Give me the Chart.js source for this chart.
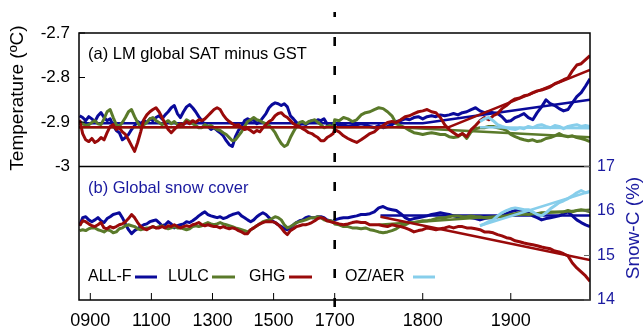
<!DOCTYPE html>
<html>
<head>
<meta charset="utf-8">
<script src="https://cdn.jsdelivr.net/npm/chart.js@4.4.1/dist/chart.umd.min.js"></script>
<style>
  html, body { margin: 0; padding: 0; background: #ffffff; }
  #wrap { width: 643px; height: 334px; }
</style>
</head>
<body>
<div id="wrap"><canvas id="chart" width="643" height="334"></canvas></div>
<script>
const FONT = "'Liberation Sans', Arial, Helvetica, sans-serif";
const COL_ALLF = "#0a0a9a";
const COL_LULC = "#5a7a2a";
const COL_GHG = "#990a0a";
const COL_OZ = "#87ceeb";
const COL_TEXT_BLUE = "#1a1aa0";

// x axis: years before 1700 are squeezed (200 yr per tick step), after 1700 100 yr per step
const SQUEEZE = 0.347;
const tx = (year) => (year >= 1700 ? year : 1700 + (year - 1700) * SQUEEZE);

const xMinYear = 863;
const xMaxYear = 1990;
const xTickYears = [900, 1100, 1300, 1500, 1700, 1800, 1900];
const xTickLabels = ["0900", "1100", "1300", "1500", "1700", "1800", "1900"];
const satTicks = [-3, -2.9, -2.8, -2.7];
const satTickLabels = ["-3", "-2.9", "-2.8", "-2.7"];
const snowTicks = [14, 15, 16, 17];
const snowTickLabels = ["14", "15", "16", "17"];

const seriesNames = ["ALL-F", "LULC", "GHG", "OZ/AER"];

// sampling: pre = 865..1695 every 10 yr, post = 1700..1990 every 5 yr, OZ/AER = 1865..1990 every 5 yr
const preStart = 865, preStep = 10;
const postStart = 1700, postStep = 5;
const ozStart = 1865, ozStep = 5;

// (a) SAT minus GST, degC
const satAllfPre = [-2.886,-2.890,-2.897,-2.888,-2.893,-2.899,-2.886,-2.879,-2.890,-2.897,
  -2.893,-2.908,-2.919,-2.924,-2.940,-2.935,-2.928,-2.917,-2.908,-2.899,
  -2.904,-2.897,-2.901,-2.893,-2.897,-2.890,-2.886,-2.893,-2.884,-2.877,
  -2.868,-2.863,-2.881,-2.890,-2.877,-2.866,-2.861,-2.868,-2.877,-2.888,
  -2.897,-2.906,-2.910,-2.917,-2.913,-2.919,-2.924,-2.931,-2.942,-2.951,
  -2.955,-2.933,-2.919,-2.910,-2.897,-2.893,-2.897,-2.895,-2.904,-2.899,
  -2.890,-2.881,-2.868,-2.861,-2.857,-2.859,-2.863,-2.859,-2.866,-2.886,
  -2.893,-2.901,-2.906,-2.904,-2.906,-2.901,-2.897,-2.899,-2.895,-2.897,
  -2.893,-2.904,-2.908,-2.904];
const satAllfPost = [-2.901,-2.908,-2.906,-2.910,-2.908,-2.906,-2.904,-2.906,-2.910,-2.913,
  -2.908,-2.913,-2.910,-2.906,-2.899,-2.897,-2.893,-2.895,-2.890,-2.888,
  -2.893,-2.888,-2.886,-2.888,-2.884,-2.886,-2.884,-2.881,-2.884,-2.879,
  -2.877,-2.872,-2.868,-2.875,-2.879,-2.877,-2.879,-2.881,-2.888,-2.899,
  -2.897,-2.890,-2.886,-2.881,-2.890,-2.895,-2.879,-2.866,-2.850,-2.859,
  -2.863,-2.870,-2.875,-2.872,-2.857,-2.843,-2.834,-2.819,-2.803];
const satLulcPre = [-2.899,-2.904,-2.908,-2.906,-2.901,-2.897,-2.904,-2.906,-2.893,-2.877,
  -2.872,-2.890,-2.906,-2.910,-2.901,-2.890,-2.877,-2.872,-2.888,-2.901,
  -2.913,-2.906,-2.901,-2.893,-2.890,-2.897,-2.901,-2.906,-2.901,-2.897,
  -2.904,-2.899,-2.906,-2.910,-2.904,-2.895,-2.899,-2.904,-2.908,-2.913,
  -2.913,-2.906,-2.910,-2.908,-2.913,-2.917,-2.919,-2.924,-2.928,-2.935,
  -2.942,-2.940,-2.931,-2.922,-2.910,-2.899,-2.895,-2.890,-2.895,-2.897,
  -2.901,-2.904,-2.908,-2.915,-2.924,-2.937,-2.948,-2.955,-2.951,-2.935,
  -2.922,-2.910,-2.901,-2.899,-2.904,-2.899,-2.897,-2.895,-2.901,-2.906,
  -2.913,-2.910,-2.908,-2.913];
const satLulcPost = [-2.895,-2.897,-2.890,-2.893,-2.899,-2.895,-2.884,-2.879,-2.877,-2.872,
  -2.868,-2.870,-2.877,-2.886,-2.904,-2.908,-2.913,-2.919,-2.924,-2.926,
  -2.928,-2.926,-2.924,-2.926,-2.928,-2.928,-2.933,-2.935,-2.933,-2.926,
  -2.937,-2.922,-2.915,-2.913,-2.913,-2.910,-2.910,-2.913,-2.915,-2.919,
  -2.928,-2.933,-2.937,-2.940,-2.942,-2.940,-2.944,-2.942,-2.937,-2.935,
  -2.931,-2.926,-2.931,-2.933,-2.931,-2.935,-2.937,-2.940,-2.944];
const satGhgPre = [-2.895,-2.926,-2.940,-2.944,-2.937,-2.946,-2.942,-2.935,-2.940,-2.924,
  -2.910,-2.906,-2.917,-2.913,-2.922,-2.928,-2.940,-2.953,-2.966,-2.946,
  -2.922,-2.895,-2.884,-2.877,-2.872,-2.868,-2.877,-2.890,-2.904,-2.917,
  -2.924,-2.917,-2.910,-2.904,-2.906,-2.899,-2.904,-2.897,-2.901,-2.895,
  -2.897,-2.893,-2.886,-2.879,-2.872,-2.868,-2.872,-2.884,-2.893,-2.899,
  -2.904,-2.908,-2.906,-2.913,-2.917,-2.915,-2.919,-2.924,-2.919,-2.922,
  -2.913,-2.906,-2.899,-2.895,-2.886,-2.881,-2.879,-2.886,-2.890,-2.897,
  -2.904,-2.908,-2.910,-2.915,-2.919,-2.924,-2.926,-2.931,-2.935,-2.942,
  -2.942,-2.935,-2.931,-2.926];
const satGhgPost = [-2.917,-2.922,-2.931,-2.937,-2.942,-2.946,-2.940,-2.933,-2.926,-2.922,
  -2.913,-2.908,-2.901,-2.899,-2.901,-2.895,-2.888,-2.886,-2.881,-2.877,
  -2.875,-2.872,-2.877,-2.879,-2.890,-2.906,-2.917,-2.924,-2.931,-2.926,
  -2.933,-2.917,-2.908,-2.897,-2.890,-2.895,-2.886,-2.881,-2.870,-2.863,
  -2.854,-2.848,-2.846,-2.841,-2.839,-2.834,-2.830,-2.828,-2.825,-2.821,
  -2.814,-2.810,-2.805,-2.801,-2.785,-2.772,-2.769,-2.760,-2.751];
const satOzaer = [-2.899,-2.893,-2.890,-2.897,-2.906,-2.910,-2.913,-2.915,-2.917,-2.913,
  -2.915,-2.910,-2.913,-2.908,-2.906,-2.910,-2.913,-2.908,-2.910,-2.915,
  -2.910,-2.908,-2.906,-2.910,-2.908,-2.910];

// (b) global snow cover, %
const snowAllfPre = [15.67,15.85,15.87,15.80,15.76,15.80,15.85,15.78,15.74,15.83,
  15.87,15.92,15.94,15.96,15.85,15.71,15.58,15.49,15.56,15.60,
  15.65,15.69,15.71,15.76,15.78,15.80,15.74,15.67,15.69,15.76,
  15.71,15.62,15.67,15.69,15.71,15.76,15.74,15.78,15.83,15.89,
  15.94,15.98,15.92,15.89,15.87,15.85,15.87,15.83,15.85,15.89,
  15.92,15.94,15.96,15.89,15.85,15.80,15.76,15.80,15.87,15.92,
  15.96,15.92,15.85,15.78,15.74,15.69,15.65,15.60,15.58,15.62,
  15.69,15.74,15.78,15.80,15.85,15.87,15.85,15.85,15.87,15.87,
  15.85,15.80,15.78,15.76];
const snowAllfPost = [15.80,15.83,15.85,15.85,15.87,15.89,15.92,15.92,15.94,15.98,
  16.07,16.10,16.05,16.03,16.01,15.94,15.85,15.80,15.83,15.85,
  15.87,15.89,15.92,15.94,15.96,15.94,15.92,15.89,15.87,15.85,
  15.87,15.85,15.83,15.80,15.83,15.85,15.85,15.87,15.89,15.94,
  15.98,16.01,16.03,16.01,15.96,15.89,15.85,15.80,15.83,15.85,
  15.87,15.89,15.94,15.98,15.89,15.80,15.74,15.69,15.65];
const snowLulcPre = [15.56,15.58,15.56,15.60,15.62,15.62,15.58,15.56,15.53,15.58,
  15.56,15.51,15.53,15.60,15.62,15.67,15.69,15.67,15.65,15.60,
  15.58,15.60,15.62,15.62,15.65,15.62,15.65,15.67,15.62,15.60,
  15.62,15.65,15.62,15.62,15.60,15.58,15.60,15.65,15.67,15.65,
  15.67,15.71,15.74,15.71,15.69,15.71,15.74,15.71,15.69,15.67,
  15.65,15.62,15.60,15.58,15.56,15.53,15.58,15.62,15.67,15.71,
  15.76,15.78,15.80,15.83,15.87,15.85,15.80,15.69,15.62,15.65,
  15.69,15.74,15.76,15.78,15.80,15.83,15.85,15.85,15.87,15.85,
  15.80,15.78,15.78,15.76];
const snowLulcPost = [15.71,15.69,15.65,15.65,15.62,15.62,15.60,15.62,15.58,15.56,
  15.53,15.51,15.53,15.56,15.60,15.67,15.69,15.74,15.74,15.76,
  15.78,15.78,15.80,15.83,15.85,15.85,15.87,15.89,15.89,15.87,
  15.87,15.89,15.87,15.87,15.85,15.85,15.85,15.87,15.87,15.89,
  15.92,15.94,15.96,15.94,15.92,15.94,15.94,15.96,15.96,15.98,
  15.98,15.98,15.98,16.01,15.98,16.01,16.03,16.01,15.98];
const snowGhgPre = [15.67,15.78,15.76,15.71,15.67,15.65,15.69,15.74,15.62,15.60,
  15.65,15.62,15.65,15.69,15.71,15.76,15.83,15.92,15.85,15.74,
  15.65,15.60,15.58,15.62,15.65,15.62,15.62,15.65,15.62,15.67,
  15.65,15.69,15.65,15.62,15.65,15.67,15.65,15.69,15.71,15.74,
  15.69,15.67,15.69,15.67,15.65,15.65,15.62,15.65,15.62,15.60,
  15.62,15.60,15.56,15.53,15.49,15.49,15.58,15.62,15.67,15.71,
  15.74,15.76,15.76,15.76,15.74,15.69,15.62,15.53,15.47,15.56,
  15.60,15.65,15.67,15.69,15.69,15.71,15.74,15.78,15.83,15.85,
  15.83,15.78,15.76,15.74];
const snowGhgPost = [15.74,15.71,15.69,15.71,15.74,15.76,15.74,15.74,15.69,15.69,
  15.69,15.67,15.65,15.69,15.67,15.65,15.62,15.58,15.53,15.56,
  15.58,15.62,15.60,15.58,15.60,15.62,15.65,15.62,15.65,15.65,
  15.62,15.62,15.60,15.58,15.53,15.53,15.51,15.47,15.44,15.40,
  15.38,15.33,15.31,15.28,15.26,15.24,15.22,15.19,15.17,15.15,
  15.10,15.08,15.04,14.99,14.83,14.72,14.63,14.54,14.42];
const snowOzaer = [15.67,15.71,15.76,15.80,15.89,15.96,16.01,16.05,16.07,16.05,
  16.03,16.03,15.98,15.92,15.89,15.96,16.05,16.12,16.19,16.23,
  16.28,16.34,16.41,16.46,16.41,16.44];

// fitted trend lines (year, value)
const satTrendAllfYears = [863, 1800, 1990], satTrendAllf = [-2.903, -2.903, -2.850];
const satTrendLulcYears = [863, 1770, 1990], satTrendLulc = [-2.912, -2.912, -2.934];
const satTrendGhgYears = [863, 1829, 1990], satTrendGhg = [-2.912, -2.912, -2.783];
const satTrendOzYears = [1865, 1990], satTrendOz = [-2.912, -2.914];
const snowTrendAllfYears = [1752, 1990], snowTrendAllf = [15.90, 15.90];
const snowTrendLulcYears = [1750, 1990], snowTrendLulc = [15.69, 16.03];
const snowTrendGhgYears = [1752, 1990], snowTrendGhg = [15.87, 14.90];
const snowTrendOzYears = [1865, 1990], snowTrendOz = [15.67, 16.44];

function joinSampled(pre, post) {
  const pts = [];
  pre.forEach((v, i) => pts.push({ x: tx(preStart + preStep * i), y: v }));
  post.forEach((v, i) => pts.push({ x: tx(postStart + postStep * i), y: v }));
  return pts;
}
function sampled(start, step, vals) {
  return vals.map((v, i) => ({ x: tx(start + step * i), y: v }));
}
function paired(years, vals) {
  return years.map((yr, i) => ({ x: tx(yr), y: vals[i] }));
}
function lineSet(label, color, data, axis, order, width) {
  return {
    label,
    data,
    yAxisID: axis,
    borderColor: color,
    backgroundColor: color,
    borderWidth: width,
    borderJoinStyle: "round",
    pointRadius: 0,
    tension: 0,
    fill: false,
    order,
  };
}

const SERIES_W = 3;
const TREND_W = 2.5;
const datasets = [
  lineSet("ALL-F", COL_ALLF, joinSampled(satAllfPre, satAllfPost), "ySat", 8, SERIES_W),
  lineSet("ALL-F trend", COL_ALLF, paired(satTrendAllfYears, satTrendAllf), "ySat", 7, TREND_W),
  lineSet("LULC", COL_LULC, joinSampled(satLulcPre, satLulcPost), "ySat", 6, SERIES_W),
  lineSet("LULC trend", COL_LULC, paired(satTrendLulcYears, satTrendLulc), "ySat", 5, TREND_W),
  lineSet("GHG", COL_GHG, joinSampled(satGhgPre, satGhgPost), "ySat", 4, SERIES_W),
  lineSet("GHG trend", COL_GHG, paired(satTrendGhgYears, satTrendGhg), "ySat", 3, TREND_W),
  lineSet("OZ/AER", COL_OZ, sampled(ozStart, ozStep, satOzaer), "ySat", 2, SERIES_W),
  lineSet("OZ/AER trend", COL_OZ, paired(satTrendOzYears, satTrendOz), "ySat", 1, TREND_W),
  lineSet("ALL-F snow", COL_ALLF, joinSampled(snowAllfPre, snowAllfPost), "ySnow", 8, SERIES_W),
  lineSet("ALL-F snow trend", COL_ALLF, paired(snowTrendAllfYears, snowTrendAllf), "ySnow", 7, TREND_W),
  lineSet("LULC snow", COL_LULC, joinSampled(snowLulcPre, snowLulcPost), "ySnow", 6, SERIES_W),
  lineSet("LULC snow trend", COL_LULC, paired(snowTrendLulcYears, snowTrendLulc), "ySnow", 5, TREND_W),
  lineSet("GHG snow", COL_GHG, joinSampled(snowGhgPre, snowGhgPost), "ySnow", 4, SERIES_W),
  lineSet("GHG snow trend", COL_GHG, paired(snowTrendGhgYears, snowTrendGhg), "ySnow", 3, TREND_W),
  lineSet("OZ/AER snow", COL_OZ, sampled(ozStart, ozStep, snowOzaer), "ySnow", 2, SERIES_W),
  lineSet("OZ/AER snow trend", COL_OZ, paired(snowTrendOzYears, snowTrendOz), "ySnow", 1, TREND_W),
];

const panelPlugin = {
  id: "panelDecor",
  afterDatasetsDraw(chart) {
    const { ctx, chartArea: a, scales } = chart;
    const ySat = scales.ySat;
    const ySnow = scales.ySnow;
    const x = scales.x;
    ctx.save();

    ctx.strokeStyle = "#000000";
    ctx.lineWidth = 1.5;
    ctx.strokeRect(a.left, a.top, a.right - a.left, a.bottom - a.top);
    const yDiv = ySat.getPixelForValue(-3);
    ctx.beginPath();
    ctx.moveTo(a.left, yDiv);
    ctx.lineTo(a.right, yDiv);
    ctx.stroke();

    // inner tick marks
    ctx.lineWidth = 1;
    satTicks.forEach((v) => {
      const py = ySat.getPixelForValue(v);
      ctx.beginPath();
      ctx.moveTo(a.left, py);
      ctx.lineTo(a.left + 6, py);
      ctx.stroke();
    });
    ctx.strokeStyle = "#666666";
    snowTicks.forEach((v) => {
      const py = ySnow.getPixelForValue(v);
      ctx.beginPath();
      ctx.moveTo(a.right - 6, py);
      ctx.lineTo(a.right, py);
      ctx.stroke();
    });
    ctx.strokeStyle = "#000000";
    xTickYears.forEach((yr) => {
      const px = x.getPixelForValue(tx(yr));
      ctx.beginPath();
      ctx.moveTo(px, a.bottom);
      ctx.lineTo(px, a.bottom - 7);
      ctx.stroke();
    });

    // dashed marker at 1700
    const px1700 = x.getPixelForValue(tx(1700));
    ctx.lineWidth = 2.6;
    ctx.setLineDash([9, 20]);
    ctx.beginPath();
    ctx.moveTo(px1700, a.bottom + 7);
    ctx.lineTo(px1700, 12);
    ctx.stroke();
    ctx.setLineDash([]);

    // panel captions
    ctx.textBaseline = "middle";
    ctx.textAlign = "left";
    ctx.font = `16.5px ${FONT}`;
    ctx.fillStyle = "#000000";
    ctx.fillText("(a) LM global SAT minus GST", a.left + 9, 54);
    ctx.fillStyle = COL_TEXT_BLUE;
    ctx.fillText("(b) Global snow cover", a.left + 9, 188);

    // legend: label then line sample
    const legendY = 277;
    const legendItems = [
      { tx: 88, l0: 135, l1: 157, color: COL_ALLF },
      { tx: 168, l0: 212, l1: 235, color: COL_LULC },
      { tx: 249, l0: 289, l1: 312, color: COL_GHG },
      { tx: 345, l0: 413, l1: 435, color: COL_OZ },
    ];
    ctx.font = `16px ${FONT}`;
    legendItems.forEach((item, i) => {
      ctx.fillStyle = "#000000";
      ctx.fillText(seriesNames[i], item.tx, legendY);
      ctx.strokeStyle = item.color;
      ctx.lineWidth = 3;
      ctx.beginPath();
      ctx.moveTo(item.l0, legendY);
      ctx.lineTo(item.l1, legendY);
      ctx.stroke();
    });

    // axis titles
    ctx.textAlign = "center";
    ctx.font = `19px ${FONT}`;
    ctx.fillStyle = "#000000";
    ctx.save();
    ctx.translate(18, 98);
    ctx.rotate(-Math.PI / 2);
    ctx.fillText("Temperature (ºC)", 0, 0);
    ctx.restore();
    ctx.fillStyle = COL_TEXT_BLUE;
    ctx.save();
    ctx.translate(634, 228);
    ctx.rotate(-Math.PI / 2);
    ctx.fillText("Snow-C (%)", 0, 0);
    ctx.restore();

    ctx.restore();
  },
};

new Chart(document.getElementById("chart"), {
  type: "line",
  data: { datasets },
  options: {
    responsive: false,
    maintainAspectRatio: false,
    animation: false,
    devicePixelRatio: 1,
    layout: { padding: { top: 33, left: 0, right: 0, bottom: 0 } },
    plugins: {
      legend: { display: false },
      tooltip: { enabled: false },
    },
    scales: {
      x: {
        type: "linear",
        min: tx(xMinYear),
        max: xMaxYear,
        grid: { display: false, drawTicks: false },
        border: { display: false },
        afterBuildTicks: (s) => { s.ticks = xTickYears.map((yr) => ({ value: tx(yr) })); },
        afterFit: (s) => { s.height = 34; },
        ticks: {
          autoSkip: false,
          maxRotation: 0,
          padding: 10,
          color: "#000000",
          font: { family: FONT, size: 18 },
          callback: (v, i) => xTickLabels[i],
        },
      },
      ySat: {
        type: "linear",
        position: "left",
        min: -3.3,
        max: -2.7,
        grid: { display: false, drawTicks: false },
        border: { display: false },
        afterBuildTicks: (s) => { s.ticks = satTicks.map((v) => ({ value: v })); },
        afterFit: (s) => { s.width = 79; },
        ticks: {
          padding: 9,
          color: "#000000",
          font: { family: FONT, size: 17 },
          callback: (v, i) => satTickLabels[i],
        },
      },
      ySnow: {
        type: "linear",
        position: "right",
        min: 14,
        max: 20,
        grid: { display: false, drawTicks: false },
        border: { display: false },
        afterBuildTicks: (s) => { s.ticks = snowTicks.map((v) => ({ value: v })); },
        afterFit: (s) => { s.width = 53; },
        ticks: {
          padding: 7,
          color: COL_TEXT_BLUE,
          font: { family: FONT, size: 16 },
          callback: (v, i) => snowTickLabels[i],
        },
      },
    },
  },
  plugins: [panelPlugin],
});
</script>
</body>
</html>
